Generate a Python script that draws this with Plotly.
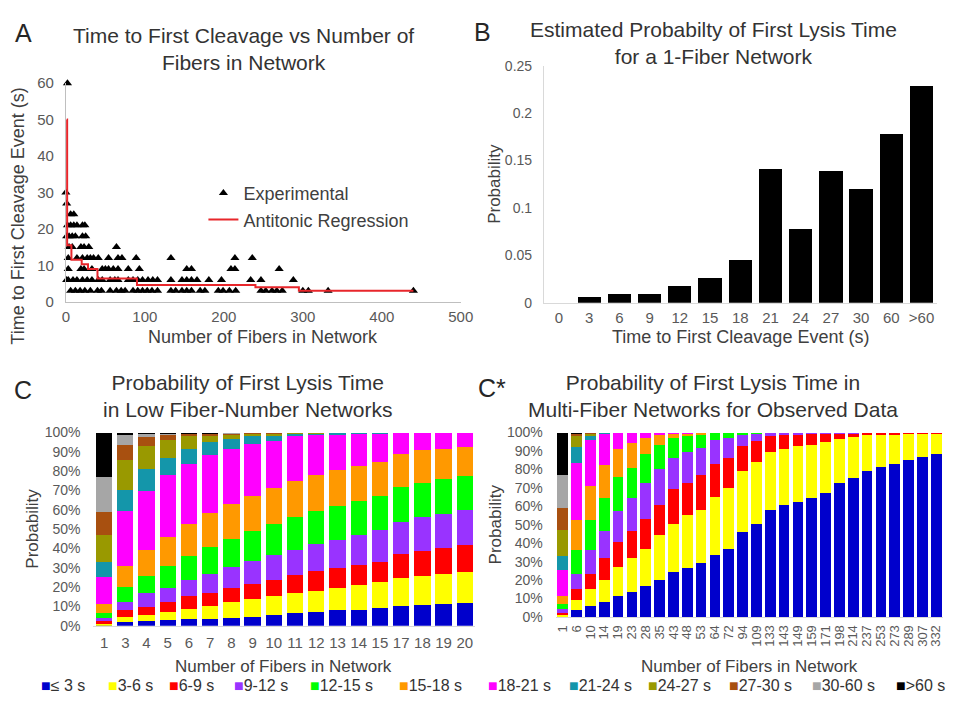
import plotly.graph_objects as go

W, H = 963, 704
def px(x): return x / W
def py(y): return 1 - y / H

FONT = "Liberation Sans, Arial, sans-serif"
TICK = "#595959"
TXT = "#404040"

# ---------------- Panel A data ----------------
fibers_t3 = [6, 12, 18, 24, 31, 40, 45, 56, 64, 70, 75, 85, 91, 97, 103, 109, 116, 133, 139, 147,
             153, 159, 170, 176, 193, 199, 207, 215, 247, 253, 261, 267, 274, 300, 307, 332, 440]
fibers_t6 = [1, 3, 9, 14, 21, 27, 33, 41, 46, 56, 62, 66, 79, 85, 91, 97, 104, 110, 116, 133,
             147, 153, 159, 166, 181, 197, 234, 247, 288]
fibers_t9 = [3, 19, 23, 33, 46, 50, 54, 60, 66, 79, 93, 153, 159, 209, 214, 270]
fibers_t12 = [3, 14, 21, 27, 31, 35, 41, 54, 66, 71, 89, 133, 214, 236]
fibers_t15 = [4, 8, 19, 23, 29, 64]
fibers_t18 = [1, 4, 8, 12, 21, 25]
fibers_t21 = [2, 6, 10, 14, 21, 24]
fibers_t24 = [6, 10]
fibers_t27 = [1]
fibers_t30 = [0]
fibers_t60 = [2]
time_levels = [3, 6, 9, 12, 15, 18, 21, 24, 27, 30, 60]
fiber_rows = [fibers_t3, fibers_t6, fibers_t9, fibers_t12, fibers_t15, fibers_t18,
              fibers_t21, fibers_t24, fibers_t27, fibers_t30, fibers_t60]

reg_fibers = [1.2, 1.6, 7, 20, 28, 40, 90, 240, 295, 440]
reg_times = [50, 15.5, 11.5, 10.3, 9.0, 6.4, 4.6, 4.0, 3.0, 3.0]

# ---------------- Panel B data ----------------
b_categories = ["0", "3", "6", "9", "12", "15", "18", "21", "24", "27", "30", "60", ">60"]
b_probability = [0.0, 0.0065, 0.0095, 0.0095, 0.0175, 0.026, 0.045, 0.141, 0.078, 0.139, 0.120, 0.178, 0.229]

# ---------------- Panel C data (percent) ----------------
time_labels = ["≤ 3 s", "3-6 s", "6-9 s", "9-12 s", "12-15 s", "15-18 s",
               "18-21 s", "21-24 s", "24-27 s", "27-30 s", "30-60 s", ">60 s"]
time_colors = ["#0000CC", "#FFFF00", "#FF0000", "#9933FF", "#00FF00", "#FF9900",
               "#FF00FF", "#1496AA", "#999900", "#A85010", "#A6A6A6", "#000000"]

low_fibers = ["1", "3", "4", "5", "6", "7", "8", "9", "10", "11", "12", "13", "14", "15", "17", "18", "19", "20"]
low_le3 = [0.6, 2.0, 2.4, 2.9, 3.4, 3.7, 4.2, 4.7, 5.7, 6.6, 7.1, 7.9, 8.4, 9.1, 10.4, 10.8, 11.3, 12.0]
low_3_6 = [0.9, 2.5, 3.0, 4.2, 5.4, 6.7, 7.9, 9.1, 9.8, 10.1, 10.9, 11.8, 12.6, 13.5, 14.3, 15.1, 15.6, 15.8]
low_6_9 = [0.9, 3.4, 4.2, 5.0, 6.4, 6.8, 7.6, 7.6, 8.4, 9.7, 10.1, 10.1, 10.5, 10.6, 12.2, 12.8, 13.5, 13.9]
low_9_12 = [1.7, 4.2, 7.2, 7.6, 8.7, 9.7, 10.9, 12.3, 12.6, 13.0, 14.3, 14.6, 15.6, 16.3, 17.0, 17.5, 17.5, 18.1]
low_12_15 = [2.7, 7.9, 9.1, 11.3, 12.1, 13.8, 14.4, 15.1, 16.0, 16.8, 16.9, 17.7, 17.5, 17.8, 18.0, 17.9, 17.9, 17.7]
low_15_18 = [4.5, 11.1, 13.2, 15.1, 16.9, 17.7, 18.0, 18.5, 18.9, 18.5, 18.5, 18.5, 18.2, 17.5, 16.8, 16.8, 15.8, 15.0]
low_18_21 = [14.1, 28.5, 30.6, 32.0, 30.8, 29.8, 28.6, 27.0, 24.1, 23.5, 20.8, 18.8, 17.0, 15.1, 11.3, 9.1, 8.4, 7.5]
low_21_24 = [7.8, 10.4, 11.4, 8.9, 7.9, 6.8, 5.0, 4.0, 3.3, 1.5, 1.1, 0.6, 0.2, 0.1, 0, 0, 0, 0]
low_24_27 = [13.9, 15.7, 11.8, 9.3, 6.4, 3.8, 2.7, 1.4, 0.9, 0.3, 0.1, 0, 0, 0, 0, 0, 0, 0]
low_27_30 = [11.9, 7.6, 4.7, 3.0, 1.7, 1.0, 0.5, 0.3, 0.3, 0, 0, 0, 0, 0, 0, 0, 0, 0]
low_30_60 = [17.8, 5.5, 2.0, 0.5, 0.2, 0.1, 0.1, 0, 0, 0, 0, 0, 0, 0, 0, 0, 0, 0]
low_gt60 = [22.9, 1.2, 0.4, 0.2, 0.1, 0.1, 0, 0, 0, 0, 0, 0, 0, 0, 0, 0, 0, 0]
low_series = [low_le3, low_3_6, low_6_9, low_9_12, low_12_15, low_15_18,
              low_18_21, low_21_24, low_24_27, low_27_30, low_30_60, low_gt60]

# ---------------- Panel C* data (percent) ----------------
multi_fibers = ["1", "6", "10", "14", "19", "23", "28", "35", "43", "48", "53", "64", "72", "94",
                "109", "133", "143", "149", "159", "171", "198", "214", "237", "253", "273", "289", "307", "332"]
multi_le3 = [0.6, 3.7, 6.2, 8.3, 11.5, 13.6, 16.8, 20.3, 24.2, 26.5, 29.1, 33.5, 37.0, 45.9,
             50.6, 57.8, 60.5, 62.3, 64.7, 67.4, 72.8, 75.5, 79.0, 81.1, 83.2, 85.0, 86.8, 88.5]
multi_3_6 = [0.9, 5.6, 8.8, 12.0, 15.5, 18.1, 20.2, 24.3, 26.4, 28.7, 29.1, 31.8, 33.0, 33.5,
             33.2, 31.6, 30.7, 30.3, 28.8, 27.3, 23.7, 22.0, 19.8, 17.8, 16.1, 14.6, 12.8, 11.3]
multi_6_9 = [0.9, 5.8, 8.5, 11.4, 13.6, 15.0, 15.9, 16.2, 18.7, 17.6, 18.5, 17.6, 16.4, 13.2,
             11.4, 8.5, 7.6, 6.7, 6.1, 5.1, 3.4, 2.4, 1.2, 1.1, 0.7, 0.4, 0.4, 0.2]
multi_9_12 = [1.7, 8.3, 12.7, 15.0, 17.1, 18.0, 19.9, 19.4, 17.1, 16.6, 15.0, 12.9, 10.6, 6.7,
              4.4, 2.1, 1.2, 0.7, 0.4, 0.2, 0.1, 0.1, 0, 0, 0, 0, 0, 0]
multi_12_15 = [2.7, 12.9, 16.4, 18.0, 18.1, 15.9, 15.4, 13.3, 10.6, 8.8, 7.6, 4.2, 3.0, 0.7,
               0.4, 0, 0, 0, 0, 0, 0, 0, 0, 0, 0, 0, 0, 0]
multi_15_18 = [4.5, 16.1, 18.5, 17.7, 15.4, 13.8, 8.8, 5.3, 2.6, 1.6, 0.7, 0, 0, 0,
               0, 0, 0, 0, 0, 0, 0, 0, 0, 0, 0, 0, 0, 0]
multi_18_21 = [14.1, 31.1, 24.7, 17.3, 8.8, 5.6, 3.0, 1.2, 0.4, 0.2, 0, 0, 0, 0,
               0, 0, 0, 0, 0, 0, 0, 0, 0, 0, 0, 0, 0, 0]
multi_21_24 = [7.8, 8.4, 3.0, 0.3, 0, 0, 0, 0, 0, 0, 0, 0, 0, 0,
               0, 0, 0, 0, 0, 0, 0, 0, 0, 0, 0, 0, 0, 0]
multi_24_27 = [13.9, 6.1, 1.0, 0, 0, 0, 0, 0, 0, 0, 0, 0, 0, 0,
               0, 0, 0, 0, 0, 0, 0, 0, 0, 0, 0, 0, 0, 0]
multi_27_30 = [11.9, 1.5, 0.2, 0, 0, 0, 0, 0, 0, 0, 0, 0, 0, 0,
               0, 0, 0, 0, 0, 0, 0, 0, 0, 0, 0, 0, 0, 0]
multi_30_60 = [17.8, 0.4, 0, 0, 0, 0, 0, 0, 0, 0, 0, 0, 0, 0,
               0, 0, 0, 0, 0, 0, 0, 0, 0, 0, 0, 0, 0, 0]
multi_gt60 = [22.9, 0.1, 0, 0, 0, 0, 0, 0, 0, 0, 0, 0, 0, 0,
              0, 0, 0, 0, 0, 0, 0, 0, 0, 0, 0, 0, 0, 0]
multi_series = [multi_le3, multi_3_6, multi_6_9, multi_9_12, multi_12_15, multi_15_18,
                multi_18_21, multi_21_24, multi_24_27, multi_27_30, multi_30_60, multi_gt60]

# ---------------- Figure ----------------
fig = go.Figure()

exp_x, exp_y = [], []
for t, row in zip(time_levels, fiber_rows):
    exp_x += row
    exp_y += [t] * len(row)

fig.add_trace(go.Scatter(x=exp_x, y=exp_y, mode="markers", name="Experimental",
                         marker=dict(symbol="triangle-up", size=8, color="black"),
                         cliponaxis=False, xaxis="x", yaxis="y"))
fig.add_trace(go.Scatter(x=reg_fibers, y=reg_times, mode="lines", name="Antitonic Regression",
                         line=dict(color="#E8262B", width=2, shape="hv"),
                         xaxis="x", yaxis="y"))

fig.add_trace(go.Bar(x=b_categories, y=b_probability, marker=dict(color="black", line=dict(width=0)),
                     showlegend=False, xaxis="x2", yaxis="y2"))

for lab, col, ls, ms in zip(time_labels, time_colors, low_series, multi_series):
    fig.add_trace(go.Bar(x=low_fibers, y=ls, name=lab, marker=dict(color=col, line=dict(width=0)),
                         showlegend=False, xaxis="x3", yaxis="y3"))
    fig.add_trace(go.Bar(x=multi_fibers, y=ms, name=lab, marker=dict(color=col, line=dict(width=0)),
                         showlegend=False, xaxis="x4", yaxis="y4"))

def tf(size):
    return dict(family=FONT, size=size, color=TICK)

common = dict(showgrid=False, zeroline=False, ticks="")

fig.update_layout(
    width=W, height=H, margin=dict(l=0, r=0, t=0, b=0),
    paper_bgcolor="white", plot_bgcolor="white",
    font=dict(family=FONT, color=TXT),
    barmode="stack", bargap=0.23,
    showlegend=True,
    legend=dict(x=px(203), y=py(170), xanchor="left", yanchor="top", traceorder="normal",
                font=dict(family=FONT, size=18, color=TXT), bgcolor="rgba(0,0,0,0)",
                itemwidth=30, tracegroupgap=0),
    xaxis=dict(domain=[px(63), px(465)], range=[0, 500], dtick=100, anchor="y",
               showline=True, linecolor="#BFBFBF", ticklabelstandoff=1, tickfont=tf(15), **common),
    yaxis=dict(domain=[py(300), py(76)], range=[0, 60], dtick=10, anchor="x",
               showline=True, linecolor="#BFBFBF", ticklabelstandoff=8, tickfont=tf(15), **common),
    xaxis2=dict(domain=[px(549.6), px(949.4)], type="category", range=[-0.5, 12.5], anchor="y2",
                showline=True, linecolor="#D9D9D9", ticklabelstandoff=1, tickfont=tf(15), **common),
    yaxis2=dict(domain=[py(301), py(58)], range=[0, 0.25], dtick=0.05, anchor="x2",
                showline=True, linecolor="#D9D9D9", ticklabelstandoff=8, tickfont=tf(14), **common),
    xaxis3=dict(domain=[px(91.1), px(479.9)], type="category", range=[-0.5, 17.5], anchor="y3",
                showline=True, linecolor="#D9D9D9", ticklabelstandoff=3, tickfont=tf(15),
                tickmode="array", tickvals=low_fibers, **common),
    yaxis3=dict(domain=[py(632), py(434)], range=[0, 100], dtick=10, ticksuffix="%", anchor="x3",
                showline=False, ticklabelstandoff=12, tickfont=tf(14), **common),
    xaxis4=dict(domain=[px(561.7), px(956)], type="category", range=[-0.5, 27.5], anchor="y4",
                showline=True, linecolor="#D9D9D9", tickangle=-90, ticklabelstandoff=2,
                tickfont=tf(13), tickmode="array", tickvals=multi_fibers, **common),
    yaxis4=dict(domain=[py(623), py(434)], range=[0, 100], dtick=10, ticksuffix="%", anchor="x4",
                showline=False, ticklabelstandoff=12, tickfont=tf(14), **common),
)

ann = []
def note(text, x, y, size, color=TXT, angle=0, xanchor="center", yanchor="middle"):
    ann.append(dict(text=text, x=px(x), y=py(y), xref="paper", yref="paper", showarrow=False,
                    font=dict(family=FONT, size=size, color=color), textangle=angle,
                    xanchor=xanchor, yanchor=yanchor))

# Panel letters
note("A", 20, 25, 25, "#262626")
note("B", 487, 24, 25, "#262626")
note("C", 19, 390, 25, "#262626")
note("C*", 497, 388, 25, "#262626")

# Titles
note("Time to First Cleavage vs Number of<br>Fibers in Network", 244, 41, 21, "#333333")
note("Estimated Probabilty of First Lysis Time<br>for a 1-Fiber Network", 722, 35, 21, "#333333")
note("Probability of First Lysis Time<br>in Low Fiber-Number Networks", 248, 397, 21, "#333333")
note("Probability of First Lysis Time in<br>Multi-Fiber Networks for Observed Data", 722, 397, 21, "#333333")

# Axis titles
note("Time to First Cleavage Event (s)", 14, 212, 18, angle=-90)
note("Number of Fibers in Network", 264, 336, 18)
note("Probability", 500, 179, 17, angle=-90)
note("Time to First Cleavage Event (s)", 750, 336, 18)
note("Probability", 29, 532, 17, angle=-90)
note("Number of Fibers in Network", 285, 674, 17)
note("Probability", 500, 528, 17, angle=-90)
note("Number of Fibers in Network", 759, 674, 17)

# Shared legend for the stacked bars
legend_x = [36, 104, 166, 232, 309, 400, 491, 573, 654, 736, 820, 906]
for lab, col, lx in zip(time_labels, time_colors, legend_x):
    note(f"<span style='color:{col}'>■</span>{lab}", lx, 693, 16, "#333333", xanchor="left")

fig.update_layout(annotations=ann)

page_fix = (
    "var s=document.createElement('style');"
    "s.textContent='html,body{margin:0!important;padding:0!important;overflow:hidden;"
    "width:963px;height:704px;}.plotly-graph-div{position:absolute!important;left:0;top:0;}';"
    "document.head.appendChild(s);"
)

fig.write_html("out.html", config={"displayModeBar": False}, post_script=page_fix)
